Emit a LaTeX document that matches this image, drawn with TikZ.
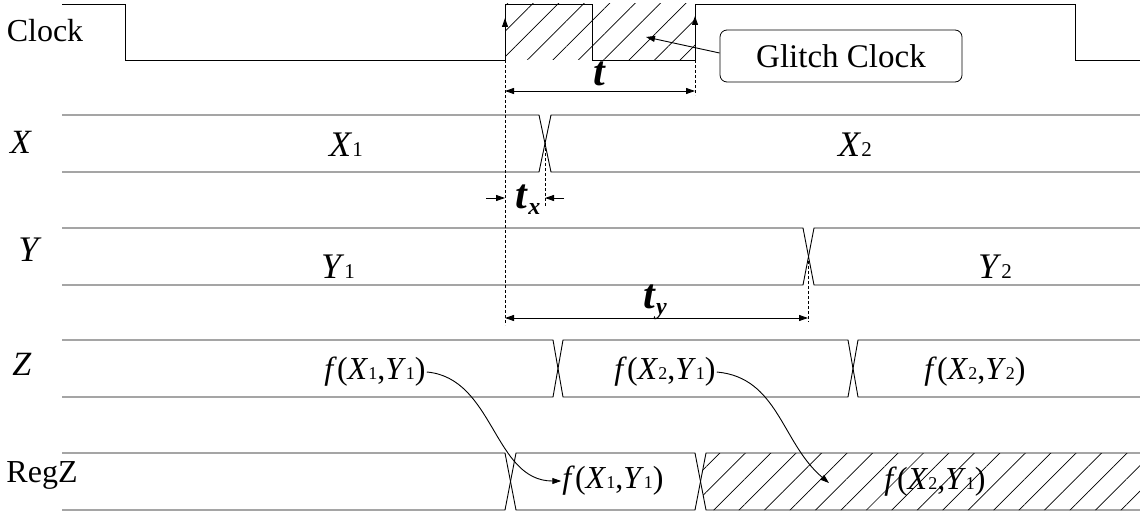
\documentclass[tikz,border=0pt]{standalone}
\usepackage{fontspec}
\setmainfont{Liberation Serif}
\usetikzlibrary{arrows.meta,positioning,calc,patterns.meta}

\newcommand{\sv}[2]{\textit{#1}{\fontsize{21}{21}\selectfont #2}}
\newcommand{\fsv}[2]{\textit{#1}{\fontsize{18}{18}\selectfont #2}}
\newcommand{\fv}[2]{\textit{f}(#1,#2)}
\newcommand{\tv}[1]{\textbf{\textit{t}}\raisebox{-6pt}{\fontsize{24}{24}\selectfont\bfseries\itshape #1}}

\begin{document}
\begin{tikzpicture}[x=1pt,y=-1pt,
  wave/.style={line width=0.9pt},
  hatch/.style={pattern={Lines[angle=45,distance=18pt,line width=0.7pt]}},
  dim/.style={line width=0.9pt,>={Triangle[length=9pt,width=6pt]}},
  guide/.style={line width=0.8pt,dash pattern=on 3pt off 2pt},
  lbl/.style={font=\fontsize{32}{34}\selectfont,inner sep=0pt},
  val/.style={font=\fontsize{36}{38}\selectfont,inner sep=1pt},
  fval/.style={font=\fontsize{32}{34}\selectfont,inner sep=1pt},
  tlbl/.style={font=\fontsize{42}{44}\selectfont,inner sep=0pt},
  note/.style={draw,rounded corners=7pt,line width=0.8pt,
               minimum width=242pt,minimum height=52pt,
               font=\fontsize{33}{35}\selectfont}
]
\useasboundingbox (0,0) rectangle (1140,511);

% hatched areas
\fill[hatch] (505,4) rectangle (695,60);
\fill[hatch] (700.5,481.5) -- (706,453) -- (1140,453) -- (1140,510) -- (706,510) -- cycle;

% Clock
\draw[wave] (62,4) -- (125,4) -- (125,60) -- (505,60) -- (505,4) -- (592,4)
  -- (592,60) -- (695,60) -- (695,4) -- (1075,4) -- (1075,60) -- (1140,60);
\draw[dim,->] (505,34) -- (505,18);
\draw[dim,->] (695,34) -- (695,16);

% X
\draw[wave] (62,115) -- (539,115) -- (551,172) -- (1140,172);
\draw[wave] (62,172) -- (539,172) -- (551,115) -- (1140,115);
% Y
\draw[wave] (62,228) -- (803,228) -- (814,285) -- (1140,285);
\draw[wave] (62,285) -- (803,285) -- (814,228) -- (1140,228);
% Z
\draw[wave] (62,340) -- (553,340) -- (563,397) -- (848,397) -- (858,340) -- (1140,340);
\draw[wave] (62,397) -- (553,397) -- (563,340) -- (848,340) -- (858,397) -- (1140,397);
% RegZ
\draw[wave] (62,453) -- (505,453) -- (516,510) -- (695,510) -- (706,453) -- (1140,453);
\draw[wave] (62,510) -- (505,510) -- (516,453) -- (695,453) -- (706,510) -- (1140,510);

% guides
\draw[guide] (505,60) -- (505,325);
\draw[guide] (695,60) -- (695,95);
\draw[guide] (545,143) -- (545,206);
\draw[guide] (808,256) -- (808,322);

% names
\node[lbl] (lclk) at (45,31) {Clock};
\node[lbl,font=\fontsize{34}{36}\selectfont] (lx) at (21,142) {\textit{X}};
\node[lbl,font=\fontsize{36}{38}\selectfont] (ly) at (30,250) {\textit{Y}};
\node[lbl,font=\fontsize{34}{36}\selectfont] (lz) at (22,364) {\textit{Z}};
\node[lbl,font=\fontsize{32}{34}\selectfont] (lrz) at (42,475) {RegZ};

% values
\node[val] (x1) at (346,145) {\sv{X}{1}};
\node[val] (x2) at (855,145) {\sv{X}{2}};
\node[val] (y1) at (338,267) {\sv{Y}{1}};
\node[val] (y2) at (995,267) {\sv{Y}{2}};
\node[fval] (zf1) at (375,372) {\fv{\fsv{X}{1}}{\fsv{Y}{1}}};
\node[fval] (zf2) at (665,372) {\fv{\fsv{X}{2}}{\fsv{Y}{1}}};
\node[fval] (zf3) at (975,372) {\fv{\fsv{X}{2}}{\fsv{Y}{2}}};
\node[fval] (rf1) at (613,481) {\fv{\fsv{X}{1}}{\fsv{Y}{1}}};
\node[fval] (rf2) at (935,482) {\fv{\fsv{X}{2}}{\fsv{Y}{1}}};
\coordinate (rf2in) at (829,483);

% timings
\node[tlbl] (tt) at (600,74) {\textbf{\textit{t}}};
\node[tlbl] (ttx) at (528,200) {\tv{x}};
\node[tlbl] (tty) at (655,302) {\tv{y}};
\draw[dim,<->] (505,91) -- (695,91);
\draw[dim,->] (486,198) -- (505,198);
\draw[dim,->] (564,198) -- (545,198);
\draw[dim,<->] (505,318) -- (808,318);

% glitch note
\node[note] (glitch) at (841,56) {Glitch Clock};
\coordinate (gtip) at (646,37);
\draw[dim,->] (glitch.west) ++(0,-3) -- (gtip);

% register transfer
\draw[dim,->] (zf1.east) to[out=-5,in=180] (rf1.west);
\draw[dim,->] (zf2.east) to[out=-5,in=140] (rf2in);
\end{tikzpicture}
\end{document}
